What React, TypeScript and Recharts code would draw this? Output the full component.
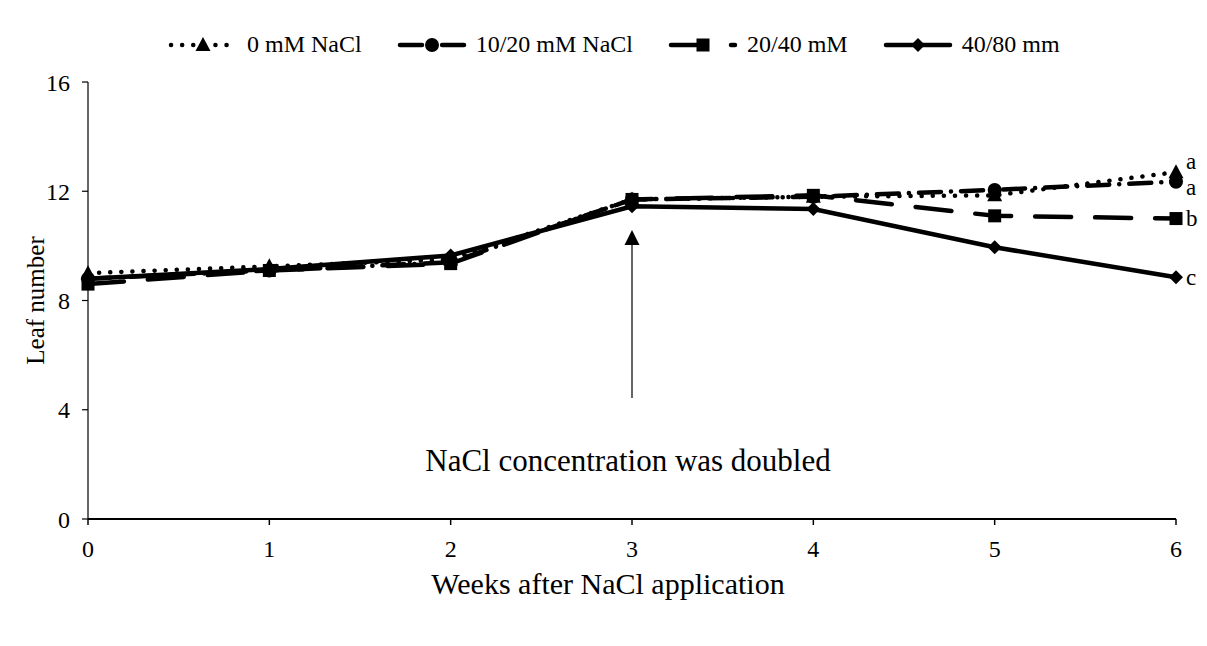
import { LineChart, Line, XAxis, YAxis, ReferenceLine, ReferenceDot, LabelList } from 'recharts';

const weeks = [0, 1, 2, 3, 4, 5, 6];
const control = [9.0, 9.25, 9.5, 11.7, 11.8, 11.85, 12.7];
const salt10 = [8.8, 9.1, 9.4, 11.7, 11.8, 12.05, 12.35];
const salt20 = [8.6, 9.1, 9.35, 11.7, 11.85, 11.1, 11.0];
const salt40 = [8.8, 9.15, 9.65, 11.45, 11.35, 9.95, 8.85];
const seriesNames = ['0 mM NaCl', '10/20 mM NaCl', '20/40 mM', '40/80 mm'];
const letters = ['a', 'a', 'b', 'c'];
const yTicks = [0, 4, 8, 12, 16];

const FONT = '"Liberation Serif", "Times New Roman", serif';

const data = weeks.map((w, i) => ({
  week: w,
  control: control[i],
  salt10: salt10[i],
  salt20: salt20[i],
  salt40: salt40[i],
}));

const Triangle = ({ cx, cy }: any) => (
  <path d={`M${cx},${cy - 8} L${cx + 7.5},${cy + 6} L${cx - 7.5},${cy + 6} Z`} fill="#000" />
);
const Circle = ({ cx, cy }: any) => <circle cx={cx} cy={cy} r={7} fill="#000" />;
const Square = ({ cx, cy }: any) => <rect x={cx - 6.5} y={cy - 6.5} width={13} height={13} fill="#000" />;
const Diamond = ({ cx, cy }: any) => (
  <path d={`M${cx},${cy - 7} L${cx + 7},${cy} L${cx},${cy + 7} L${cx - 7},${cy} Z`} fill="#000" />
);

const series = [
  { key: 'control', dash: '0.1 11', Marker: Triangle, letterDy: -11 },
  { key: 'salt10', dash: '22 10 0.1 10', Marker: Circle, letterDy: 6 },
  { key: 'salt20', dash: '36 24', Marker: Square, letterDy: 0 },
  { key: 'salt40', dash: undefined, Marker: Diamond, letterDy: 0 },
];

// significance letter next to the last point only
const letterLabel = (letter: string, dy: number) => (props: any) => {
  const { x, y, index } = props;
  if (index !== weeks.length - 1) return null;
  return (
    <text x={x + 10} y={y + dy} dominantBaseline="central" fontFamily={FONT} fontSize={23} fill="#000">
      {letter}
    </text>
  );
};

function LegendSample({ dash, Marker }: any) {
  return (
    <svg width={70} height={20} style={{ display: 'block' }}>
      <line x1={3} y1={10} x2={67} y2={10} stroke="#000" strokeWidth={4.5} strokeDasharray={dash} strokeLinecap="round" />
      <Marker cx={35} cy={10} />
    </svg>
  );
}

const ArrowHead = ({ cx, cy }: any) => (
  <path d={`M${cx},${cy} L${cx + 7.5},${cy + 15} L${cx - 7.5},${cy + 15} Z`} fill="#000" />
);

const Note = ({ cx, cy }: any) => (
  <text x={cx - 4} y={cy} textAnchor="middle" dominantBaseline="central" fontFamily={FONT} fontSize={31} fill="#000">
    NaCl concentration was doubled
  </text>
);

export default function App() {
  return (
    <div
      style={{
        position: 'relative',
        left: -1,
        top: -1,
        width: 1199,
        height: 640,
        borderTop: '1px solid #d9d9d9',
        borderLeft: '1px solid #d9d9d9',
        background: '#fff',
      }}
    >
      <div
        style={{
          position: 'absolute',
          top: 23,
          left: 160,
          display: 'flex',
          alignItems: 'center',
          fontFamily: FONT,
          fontSize: 24,
          color: '#000',
          whiteSpace: 'nowrap',
        }}
      >
        {series.map((s, i) => (
          <div key={s.key} style={{ display: 'flex', alignItems: 'center', marginRight: 35 }}>
            <LegendSample dash={s.dash} Marker={s.Marker} />
            <span style={{ marginLeft: 9 }}>{seriesNames[i]}</span>
          </div>
        ))}
      </div>
      <LineChart width={1199} height={638} data={data} margin={{ top: 74, right: 31, left: 0, bottom: 47 }}>
        <XAxis
          dataKey="week"
          type="number"
          domain={[0, 6]}
          ticks={weeks}
          axisLine={{ stroke: '#000', strokeWidth: 2 }}
          tickLine={{ stroke: '#000', strokeWidth: 1.5 }}
          tickSize={6}
          tickMargin={15}
          height={80}
          tick={{ fill: '#000', fontSize: 24, fontFamily: FONT }}
          label={{
            value: 'Weeks after NaCl application',
            position: 'insideBottom',
            offset: 5,
            dx: -24,
            style: { fill: '#000', fontSize: 30, fontFamily: FONT },
          }}
        />
        <YAxis
          type="number"
          domain={[0, 16]}
          ticks={yTicks}
          width={80}
          axisLine={{ stroke: '#000', strokeWidth: 1.2 }}
          tickLine={{ stroke: '#000', strokeWidth: 1.2 }}
          tickSize={6}
          tickMargin={12}
          tick={{ fill: '#000', fontSize: 24, fontFamily: FONT }}
          label={{
            value: 'Leaf number',
            angle: -90,
            position: 'insideLeft',
            offset: 27,
            style: { fill: '#000', fontSize: 25, fontFamily: FONT, textAnchor: 'middle' },
          }}
        />
        <ReferenceLine
          segment={[
            { x: 3, y: 4.43 },
            { x: 3, y: 10.1 },
          ]}
          stroke="#000"
          strokeWidth={1.2}
        />
        <ReferenceDot x={3} y={10.58} shape={ArrowHead} />
        <ReferenceDot x={3} y={2.15} shape={Note} />
        {series.map((s, i) => (
          <Line
            key={s.key}
            type="linear"
            dataKey={s.key}
            name={seriesNames[i]}
            stroke="#000"
            strokeWidth={4.5}
            strokeDasharray={s.dash}
            strokeLinecap="round"
            dot={s.Marker}
            activeDot={false}
            isAnimationActive={false}
          >
            <LabelList dataKey={s.key} content={letterLabel(letters[i], s.letterDy)} />
          </Line>
        ))}
      </LineChart>
    </div>
  );
}
